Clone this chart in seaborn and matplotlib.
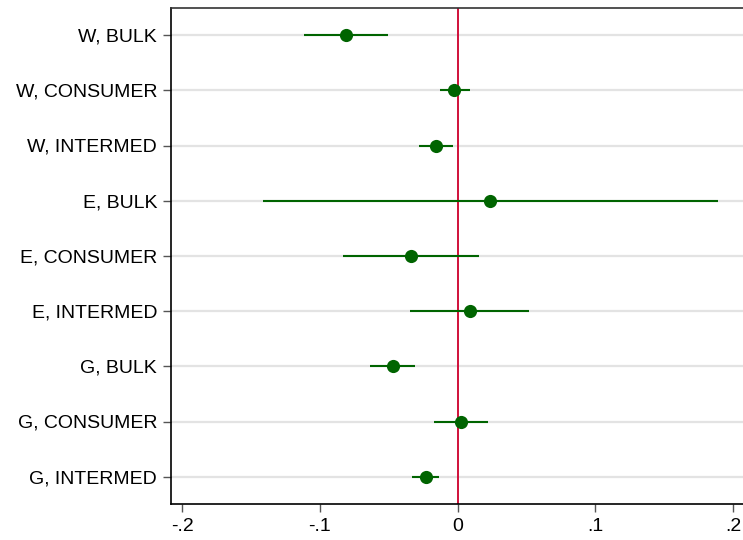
import numpy as np
import pandas as pd
import matplotlib
matplotlib.use("Agg")
import matplotlib.pyplot as plt
import seaborn as sns

# Coefficient estimates with 95% confidence bounds
labels = ["W, BULK", "W, CONSUMER", "W, INTERMED",
          "E, BULK", "E, CONSUMER", "E, INTERMED",
          "G, BULK", "G, CONSUMER", "G, INTERMED"]
coef = [-0.0813, -0.0025, -0.0158, 0.0235, -0.0339, 0.0087, -0.0472, 0.0024, -0.0232]
ci_low = [-0.1116, -0.0129, -0.0279, -0.1412, -0.0831, -0.0344, -0.0635, -0.0170, -0.0330]
ci_high = [-0.0508, 0.0087, -0.0032, 0.1888, 0.0155, 0.0520, -0.0308, 0.0222, -0.0134]
xticks = [-0.2, -0.1, 0.0, 0.1, 0.2]
xticklabels = ["-.2", "-.1", "0", ".1", ".2"]

df = pd.DataFrame({"label": labels, "coef": coef, "lo": ci_low, "hi": ci_high})
df["pos"] = np.arange(len(df))

sns.set_theme(style="white")
plt.rcParams["font.family"] = ["Liberation Sans", "DejaVu Sans"]

fig = plt.figure(figsize=(7.43, 5.40), dpi=100)
ax = fig.add_axes([171 / 743, 1 - 504.3 / 540, 1 - 171 / 743, (504.3 - 7.5) / 540])

green = "#006400"

# horizontal grid lines at each coefficient
for p in df["pos"]:
    ax.axhline(p, color="#e3e3e3", lw=1.6, zorder=0)

ax.axvline(0, color="#d0103a", lw=1.4, zorder=1)

ax.hlines(df["pos"], df["lo"], df["hi"], color=green, lw=1.5, zorder=2)
sns.scatterplot(data=df, x="coef", y="pos", ax=ax, color=green, s=90,
                edgecolor=green, linewidth=0, zorder=3, legend=False)

ax.set_ylim(len(df) - 0.5, -0.5)
ax.set_xlim(-0.2082, 0.2072)
ax.set_yticks(df["pos"])
ax.set_yticklabels(df["label"])
ax.set_xticks(xticks)
ax.set_xticklabels(xticklabels)
ax.set_xlabel("")
ax.set_ylabel("")

ax.tick_params(axis="both", which="both", direction="out", length=6, width=1,
               color="#555555", labelsize=14, labelcolor="black", pad=4)
ax.tick_params(axis="y", left=True)
ax.tick_params(axis="x", bottom=True)

for side in ["left", "bottom", "top"]:
    ax.spines[side].set_visible(True)
    ax.spines[side].set_color("black")
    ax.spines[side].set_linewidth(1.2)
ax.spines["top"].set_color("#333333")
ax.spines["right"].set_visible(False)

fig.savefig("out.png", dpi=100)
